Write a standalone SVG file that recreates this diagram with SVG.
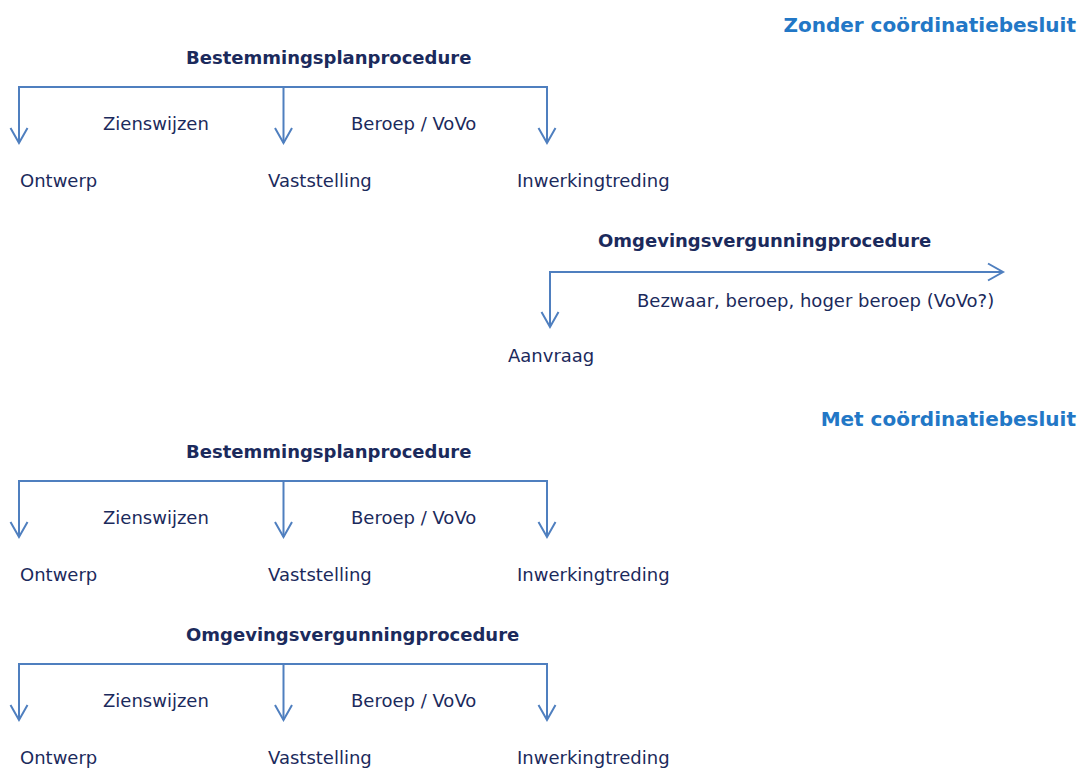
<svg xmlns="http://www.w3.org/2000/svg" width="1080" height="770" viewBox="0 0 1080 770">
<style>
  text { font-family: "DejaVu Sans", Verdana, sans-serif; fill: #1b2a5c; font-size: 18px; }
  .title { font-weight: bold; }
  .head { font-weight: bold; font-size: 20px; fill: #2277c6; text-anchor: end; }
  .ln { fill: none; stroke: #4f7fbf; stroke-width: 2; }
</style>
<defs>
  <marker id="arr" markerUnits="userSpaceOnUse" markerWidth="20" markerHeight="20" viewBox="-16 -10 18 20" refX="0" refY="0" orient="auto" overflow="visible">
    <path d="M-15,-8.5 L0,0 L-15,8.5" fill="none" stroke="#4f7fbf" stroke-width="2"/>
  </marker>
</defs>
<rect width="1080" height="770" fill="#ffffff"/>

<text id="head-zonder" class="head" x="1076" y="32">Zonder coördinatiebesluit</text>
<text id="head-met" class="head" x="1076" y="426">Met coördinatiebesluit</text>

<g id="connectors">
  <!-- Section 1 -->
  <path class="ln" d="M19,87 H547"/>
  <path class="ln" d="M19,86 V143" marker-end="url(#arr)"/>
  <path class="ln" d="M283.5,87 V143" marker-end="url(#arr)"/>
  <path class="ln" d="M547,86 V143" marker-end="url(#arr)"/>
  <!-- Section 2 -->
  <path class="ln" d="M549,272 H1003" marker-end="url(#arr)"/>
  <path class="ln" d="M550,271 V327" marker-end="url(#arr)"/>
  <!-- Section 3 -->
  <path class="ln" d="M19,481 H547"/>
  <path class="ln" d="M19,480 V537" marker-end="url(#arr)"/>
  <path class="ln" d="M283.5,481 V537" marker-end="url(#arr)"/>
  <path class="ln" d="M547,480 V537" marker-end="url(#arr)"/>
  <!-- Section 4 -->
  <path class="ln" d="M19,664 H547"/>
  <path class="ln" d="M19,663 V720" marker-end="url(#arr)"/>
  <path class="ln" d="M283.5,664 V720" marker-end="url(#arr)"/>
  <path class="ln" d="M547,663 V720" marker-end="url(#arr)"/>
</g>

<g id="bp1">
  <text class="title" x="186" y="64">Bestemmingsplanprocedure</text>
  <text x="103" y="130">Zienswijzen</text>
  <text x="351" y="130">Beroep / VoVo</text>
  <g id="bp1-ontwerp"><text x="20" y="187">Ontwerp</text></g>
  <g id="bp1-vaststelling"><text x="268" y="187">Vaststelling</text></g>
  <g id="bp1-inwerkingtreding"><text x="517" y="187">Inwerkingtreding</text></g>
</g>

<g id="ov1">
  <text class="title" x="598" y="247">Omgevingsvergunningprocedure</text>
  <text x="637" y="307">Bezwaar, beroep, hoger beroep (VoVo?)</text>
  <g id="ov1-aanvraag"><text x="508" y="362">Aanvraag</text></g>
</g>

<g id="bp2">
  <text class="title" x="186" y="458">Bestemmingsplanprocedure</text>
  <text x="103" y="524">Zienswijzen</text>
  <text x="351" y="524">Beroep / VoVo</text>
  <g id="bp2-ontwerp"><text x="20" y="581">Ontwerp</text></g>
  <g id="bp2-vaststelling"><text x="268" y="581">Vaststelling</text></g>
  <g id="bp2-inwerkingtreding"><text x="517" y="581">Inwerkingtreding</text></g>
</g>

<g id="ov2">
  <text class="title" x="186" y="641">Omgevingsvergunningprocedure</text>
  <text x="103" y="707">Zienswijzen</text>
  <text x="351" y="707">Beroep / VoVo</text>
  <g id="ov2-ontwerp"><text x="20" y="764">Ontwerp</text></g>
  <g id="ov2-vaststelling"><text x="268" y="764">Vaststelling</text></g>
  <g id="ov2-inwerkingtreding"><text x="517" y="764">Inwerkingtreding</text></g>
</g>
</svg>
